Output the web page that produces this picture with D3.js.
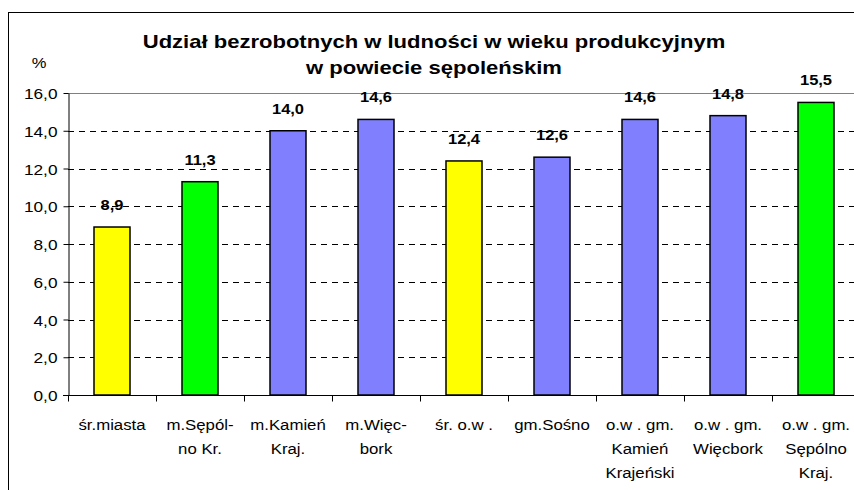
<!DOCTYPE html>
<html>
<head>
<meta charset="utf-8">
<script src="https://cdn.jsdelivr.net/npm/d3@7"></script>
<style>
  body { margin: 0; background: #fff; }
  svg { display: block; font-family: "Liberation Sans", Arial, sans-serif; }
</style>
</head>
<body>
<div id="chart"></div>
<script>
const categories = [
  ["śr.miasta"],
  ["m.Sępól-", "no Kr."],
  ["m.Kamień", "Kraj."],
  ["m.Więc-", "bork"],
  ["śr. o.w ."],
  ["gm.Sośno"],
  ["o.w . gm.", "Kamień", "Krajeński"],
  ["o.w . gm.", "Więcbork"],
  ["o.w . gm.", "Sępólno", "Kraj."]
];
const values = [8.9, 11.3, 14.0, 14.6, 12.4, 12.6, 14.6, 14.8, 15.5];
const groups = ["srednia", "sepolno", "inne", "inne", "srednia", "inne", "inne", "inne", "sepolno"];
const yTicks = [0, 2, 4, 6, 8, 10, 12, 14, 16];
const titleLines = ["Udział bezrobotnych w ludności w wieku produkcyjnym", "w powiecie sępoleńskim"];

const width = 854, height = 490;
const mLeft = 68, mRight = 860, mTop = 93, mBottom = 395;

const pl = d3.formatLocale({ decimal: ",", thousands: " ", grouping: [3], currency: ["", " zł"] });
const fmt = pl.format(".1f");

const color = d3.scaleOrdinal()
  .domain(["srednia", "sepolno", "inne"])
  .range(["#FFFF00", "#00FF00", "#8080FF"]);

const x = d3.scaleBand()
  .domain(d3.range(categories.length))
  .range([mLeft, mRight])
  .paddingInner(0)
  .paddingOuter(0);

const y = d3.scaleLinear()
  .domain([0, 16])
  .range([mBottom, mTop]);

const svg = d3.select("#chart")
  .append("svg")
  .attr("width", width)
  .attr("height", height);

// stretched text, the reference glyphs are wider than plain Arial
function put(sel, tx, ty, sx) {
  sel.attr("transform", (d, i) => `translate(${tx(d, i)},${ty(d, i)}) scale(${sx},1)`);
}

// outer frame (cut at right and bottom)
svg.append("rect")
  .attr("x", 8.5).attr("y", 12.5)
  .attr("width", 900).attr("height", 600)
  .attr("fill", "none")
  .attr("stroke", "#000")
  .attr("stroke-width", 1);

// gridlines
svg.append("g")
  .selectAll("line")
  .data(yTicks.filter(t => t > 0))
  .enter()
  .append("line")
  .attr("x1", mLeft).attr("x2", mRight)
  .attr("y1", d => Math.round(y(d)) + 0.5)
  .attr("y2", d => Math.round(y(d)) + 0.5)
  .attr("stroke", d => d === 16 ? "#808080" : "#000")
  .attr("stroke-dasharray", d => d === 16 ? null : "6,5");

// y axis
const yAxis = svg.append("g")
  .attr("transform", `translate(${mLeft + 0.5},0)`)
  .call(d3.axisLeft(y).tickValues(yTicks).tickSize(5).tickSizeOuter(0).tickFormat(fmt));
yAxis.select(".domain").attr("stroke", "#000");
yAxis.selectAll(".tick line").attr("stroke", "#000");
yAxis.selectAll(".tick text").remove();
yAxis.selectAll(".tick")
  .append("text")
  .text(d => fmt(d))
  .attr("text-anchor", "end")
  .attr("fill", "#000")
  .style("font-size", "15px")
  .attr("transform", "translate(-11,5.5) scale(1.15,1)");

// bars
svg.append("g")
  .selectAll("rect")
  .data(values)
  .enter()
  .append("rect")
  .attr("x", (d, i) => x(i) + x.bandwidth() / 2 - 18)
  .attr("width", 36)
  .attr("y", d => y(d))
  .attr("height", d => mBottom - y(d))
  .attr("fill", (d, i) => color(groups[i]))
  .attr("stroke", "#000")
  .attr("stroke-width", 1.5);

// x axis
const xAxis = svg.append("g")
  .attr("transform", `translate(0,${mBottom + 0.5})`);
xAxis.append("line")
  .attr("x1", mLeft - 5).attr("x2", mRight)
  .attr("stroke", "#000");
xAxis.selectAll(".xt")
  .data(d3.range(categories.length + 1))
  .enter()
  .append("line")
  .attr("class", "xt")
  .attr("x1", i => Math.round(mLeft + i * x.step()) + 0.5)
  .attr("x2", i => Math.round(mLeft + i * x.step()) + 0.5)
  .attr("y1", 0).attr("y2", 6)
  .attr("stroke", "#000");

// category labels
const cat = svg.append("g")
  .selectAll("g")
  .data(categories)
  .enter()
  .append("g");
cat.selectAll("text")
  .data((d, i) => d.map((t, j) => ({ t, j, i })))
  .enter()
  .append("text")
  .text(d => d.t)
  .attr("text-anchor", "middle")
  .style("font-size", "15px")
  .attr("fill", "#000")
  .call(put, d => x(d.i) + x.bandwidth() / 2, d => 430 + d.j * 24, 1.12);

// value labels
svg.append("g")
  .selectAll("text")
  .data(values)
  .enter()
  .append("text")
  .text(d => fmt(d))
  .attr("text-anchor", "middle")
  .style("font-size", "15px")
  .style("font-weight", "bold")
  .attr("fill", "#000")
  .call(put, (d, i) => x(i) + x.bandwidth() / 2, d => y(d) - 17, 1.1);

// title
svg.append("g")
  .selectAll("text")
  .data(titleLines)
  .enter()
  .append("text")
  .text(d => d)
  .attr("text-anchor", "middle")
  .style("font-size", "19px")
  .style("font-weight", "bold")
  .attr("fill", "#000")
  .call(put, () => 434, (d, i) => 48 + i * 26, 1.16);

// unit
svg.append("text")
  .text("%")
  .attr("text-anchor", "middle")
  .style("font-size", "15px")
  .attr("fill", "#000")
  .attr("transform", "translate(39,68) scale(1.1,1)");
</script>
</body>
</html>
